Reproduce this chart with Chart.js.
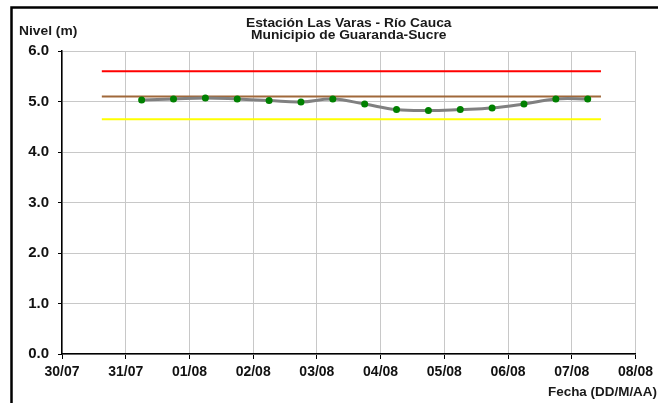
<!DOCTYPE html>
<html>
<head>
<meta charset="utf-8">
<script src="https://cdn.jsdelivr.net/npm/chart.js@4.4.1/dist/chart.umd.min.js"></script>
<style>
  html, body { margin: 0; padding: 0; background: #fff; }
</style>
</head>
<body>
<canvas id="nivel-chart" width="658" height="403"></canvas>
<script>
// dias del eje x
var dayLabels = ['30/07', '31/07', '01/08', '02/08', '03/08', '04/08', '05/08', '06/08', '07/08', '08/08'];

// lecturas de nivel (m)
var obsTimes = ['31/07 06:00', '31/07 18:00', '01/08 06:00', '01/08 18:00', '02/08 06:00',
  '02/08 18:00', '03/08 06:00', '03/08 18:00', '04/08 06:00', '04/08 18:00',
  '05/08 06:00', '05/08 18:00', '06/08 06:00', '06/08 18:00', '07/08 06:00'];
var levels = [5.03, 5.05, 5.07, 5.05, 5.02, 4.99, 5.05, 4.95, 4.84, 4.82, 4.84, 4.87, 4.95, 5.05, 5.05];

// umbrales
var thresholdLevels = [5.6, 5.1, 4.65];
var thresholdSpan = ['30/07 15:00', '07/08 11:00'];

var yTicks = [0, 1, 2, 3, 4, 5, 6];

function dayIndex(s) {
  var parts = s.split(' ');
  var hm = parts[1].split(':');
  return dayLabels.indexOf(parts[0]) + (parseInt(hm[0]) + parseInt(hm[1]) / 60) / 24;
}

var seriesData = obsTimes.map(function (t, i) { return { x: dayIndex(t), y: levels[i] }; });
function thresholdData(v) {
  return thresholdSpan.map(function (t) { return { x: dayIndex(t), y: v }; });
}

var thresholdColors = ['#ff0000', '#a0683a', '#ffff00'];
var datasets = [{
  label: 'Nivel',
  data: seriesData,
  borderColor: '#808080',
  borderWidth: 3,
  tension: 0.4,
  pointRadius: 3.5,
  pointBackgroundColor: '#008000',
  pointBorderWidth: 0,
  order: 0
}];
thresholdLevels.forEach(function (v, i) {
  datasets.push({
    label: 'umbral' + i,
    data: thresholdData(v),
    borderColor: thresholdColors[i],
    borderWidth: 2,
    pointRadius: 0,
    order: 1
  });
});

var frameAndText = {
  id: 'frameAndText',
  beforeDraw: function (chart) {
    var c = chart.ctx;
    c.save();
    c.fillStyle = '#fff';
    c.fillRect(0, 0, chart.width, chart.height);
    c.restore();
  },
  afterDraw: function (chart) {
    var c = chart.ctx;
    var area = chart.chartArea;
    c.save();
    c.strokeStyle = '#000';
    c.lineWidth = 2.5;
    c.beginPath();
    c.moveTo(11.5, chart.height);
    c.lineTo(11.5, 7.5);
    c.lineTo(chart.width, 7.5);
    c.stroke();

    c.fillStyle = '#1a1a1a';
    c.textBaseline = 'alphabetic';
    c.font = 'bold 12px "Liberation Sans", Arial, sans-serif';
    c.textAlign = 'center';
    var cx = (area.left + area.right) / 2;
    c.save();
    c.translate(cx, 0);
    c.scale(1.15, 1);
    c.fillText('Estación Las Varas - Río Cauca', 0, 27);
    c.fillText('Municipio de Guaranda-Sucre', 0, 38.5);
    c.restore();

    c.textAlign = 'left';
    c.save();
    c.translate(19, 0);
    c.scale(1.15, 1);
    c.fillText('Nivel (m)', 0, 34.5);
    c.restore();

    c.textAlign = 'right';
    c.save();
    c.translate(657, 0);
    c.scale(1.12, 1);
    c.fillText('Fecha (DD/M/AA)', 0, 396);
    c.restore();
    c.restore();
  }
};

var ctx = document.getElementById('nivel-chart');
var myChart = new Chart(ctx, {
  type: 'line',
  data: { datasets: datasets },
  plugins: [frameAndText],
  options: {
    responsive: false,
    animation: false,
    layout: { padding: { left: 0, right: 21, top: 51, bottom: 0 } },
    plugins: {
      legend: { display: false },
      tooltip: { enabled: false },
      title: { display: false }
    },
    scales: {
      x: {
        type: 'linear',
        min: 0,
        max: dayLabels.length - 1,
        afterFit: function (s) { s.height = 49; },
        afterBuildTicks: function (s) {
          s.ticks = dayLabels.map(function (d, i) { return { value: i }; });
        },
        ticks: {
          callback: function (v) { return dayLabels[v]; },
          color: '#111',
          font: { family: '"Liberation Sans", Arial, sans-serif', size: 14, weight: 'bold' },
          padding: 5,
          maxRotation: 0,
          autoSkip: false
        },
        grid: { color: '#c8c8c8', lineWidth: 1, tickColor: '#000', tickLength: 5 },
        border: { color: '#000', width: 1.5 }
      },
      y: {
        min: 0,
        max: 6,
        afterFit: function (s) { s.width = 62; },
        afterBuildTicks: function (s) {
          s.ticks = yTicks.map(function (v) { return { value: v }; });
        },
        ticks: {
          callback: function (v) { return v.toFixed(1); },
          color: '#111',
          font: { family: '"Liberation Sans", Arial, sans-serif', size: 15, weight: 'bold' },
          padding: 9
        },
        grid: { color: '#c8c8c8', lineWidth: 1, tickColor: '#000', tickLength: 4 },
        border: { color: '#000', width: 1.5 }
      }
    }
  }
});
</script>
</body>
</html>
